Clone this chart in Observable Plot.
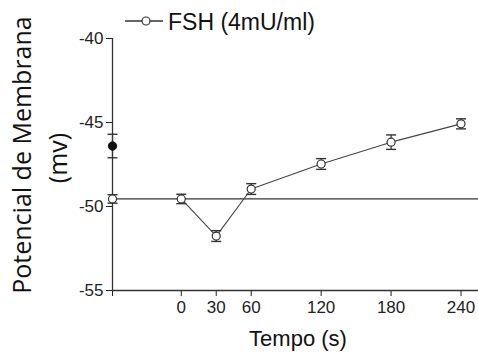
<!DOCTYPE html>
<html>
<head>
<meta charset="utf-8">
<script src="https://cdn.jsdelivr.net/npm/d3@7"></script>
<script src="https://cdn.jsdelivr.net/npm/@observablehq/plot@0.6"></script>
<style>
  html, body { margin: 0; padding: 0; background: #fff; }
  #wrap { position: relative; width: 478px; height: 356px; overflow: hidden; font-family: "Liberation Sans", Arial, sans-serif; color: #1a1a1a; }
  #chart { position: absolute; left: 0; top: 0; }
  .ylab { position: absolute; width: 320px; text-align: center; font-family: "Open Sans", sans-serif; font-size: 25px; line-height: 30px; height: 30px; transform: rotate(-90deg); transform-origin: 50% 50%; white-space: nowrap; color: #111; }
  #xlab { position: absolute; left: 198px; width: 200px; top: 326px; text-align: center; font-size: 22px; color: #111; }
  #legend { position: absolute; left: 120px; top: 4px; }
</style>
</head>
<body>
<div id="wrap">
  <div id="chart"></div>
  <div class="ylab" id="ylab1">Potencial de Membrana</div>
  <div class="ylab" id="ylab2">(mv)</div>
  <div id="xlab">Tempo (s)</div>
  <svg id="legend" width="220" height="34"></svg>
</div>
<script>
// ---- data ----
const xTicks = [0, 30, 60, 120, 180, 240];
const xDomain = [-59, 255];
const yTicks = [-55, -50, -45, -40];
const yDomain = [-55, -40];

// FSH series (time in s, mean mV, SEM)
const times = [0, 30, 60, 120, 180, 240];
const means = [-49.55, -51.76, -48.96, -47.47, -46.17, -45.08];
const errs  = [0.28, 0.32, 0.32, 0.32, 0.43, 0.30];

// control points drawn on the y-axis position
const controlX = -59;
const controlOpenMean = -49.55, controlOpenErr = 0.25;
const controlFilledMean = -46.4, controlFilledErr = 0.7;
const baselineValue = -49.55;

const legendLabel = "FSH (4mU/ml)";

const series = times.map((t, i) => ({t, v: means[i], e: errs[i]}));
const openPts = [{t: controlX, v: controlOpenMean, e: controlOpenErr}, ...series];
const filledPts = [{t: controlX, v: controlFilledMean, e: controlFilledErr}];
const allPts = [...openPts, ...filledPts];

const capSymbol = {
  draw(ctx, size) {
    const r = Math.sqrt(size / Math.PI);
    ctx.moveTo(-r, 0);
    ctx.lineTo(r, 0);
  }
};

const ink = "#333";

const chart = Plot.plot({
  width: 478,
  height: 356,
  marginLeft: 112,
  marginRight: 0,
  marginTop: 38,
  marginBottom: 66,
  style: {fontFamily: "'Liberation Sans', Arial, sans-serif", fontSize: "17px", color: "#222", background: "transparent", overflow: "visible"},
  x: {domain: xDomain, ticks: [xDomain[0], ...xTicks], tickSize: 6, tickPadding: 4, label: null, tickFormat: d => (xTicks.includes(d) ? String(d) : "")},
  y: {domain: yDomain, ticks: yTicks, tickSize: 6, tickPadding: 3, label: null, tickFormat: d => String(d)},
  marks: [
    Plot.ruleX([xDomain[0]], {y1: yDomain[0], y2: yDomain[1], stroke: ink, strokeWidth: 1.3}),
    Plot.ruleY([yDomain[0]], {stroke: ink, strokeWidth: 1.3}),
    Plot.ruleY([baselineValue], {stroke: ink, strokeWidth: 1.3}),
    Plot.line(series, {x: "t", y: "v", stroke: "#444", strokeWidth: 1.1}),
    Plot.ruleX(allPts, {x: "t", y1: d => d.v - d.e, y2: d => d.v + d.e, stroke: ink, strokeWidth: 1.2}),
    Plot.dot(allPts, {x: "t", y: d => d.v + d.e, symbol: capSymbol, r: 5, stroke: ink, strokeWidth: 1.4, fill: "none"}),
    Plot.dot(allPts, {x: "t", y: d => d.v - d.e, symbol: capSymbol, r: 5, stroke: ink, strokeWidth: 1.4, fill: "none"}),
    Plot.dot(openPts, {x: "t", y: "v", r: 4, fill: "white", stroke: ink, strokeWidth: 1.2}),
    Plot.dot(filledPts, {x: "t", y: "v", r: 4.2, fill: "#111", stroke: "#111", strokeWidth: 1})
  ]
});
document.getElementById("chart").appendChild(chart);

// y label placement (rotated lines)
function placeY(id, cx, cy) {
  const el = document.getElementById(id);
  el.style.left = (cx - 160) + "px";
  el.style.top = (cy - 15) + "px";
}
placeY("ylab1", 21, 155);
placeY("ylab2", 57, 158);

// legend
const lg = d3.select("#legend");
lg.append("line").attr("x1", 5).attr("x2", 43).attr("y1", 17).attr("y2", 17).attr("stroke", ink).attr("stroke-width", 1.3);
lg.append("circle").attr("cx", 26).attr("cy", 17).attr("r", 4).attr("fill", "white").attr("stroke", ink).attr("stroke-width", 1.2);
lg.append("text").attr("x", 48).attr("y", 26).attr("font-size", 23).attr("font-family", "'Liberation Sans', Arial, sans-serif").attr("fill", "#111").text(legendLabel);
</script>
</body>
</html>
